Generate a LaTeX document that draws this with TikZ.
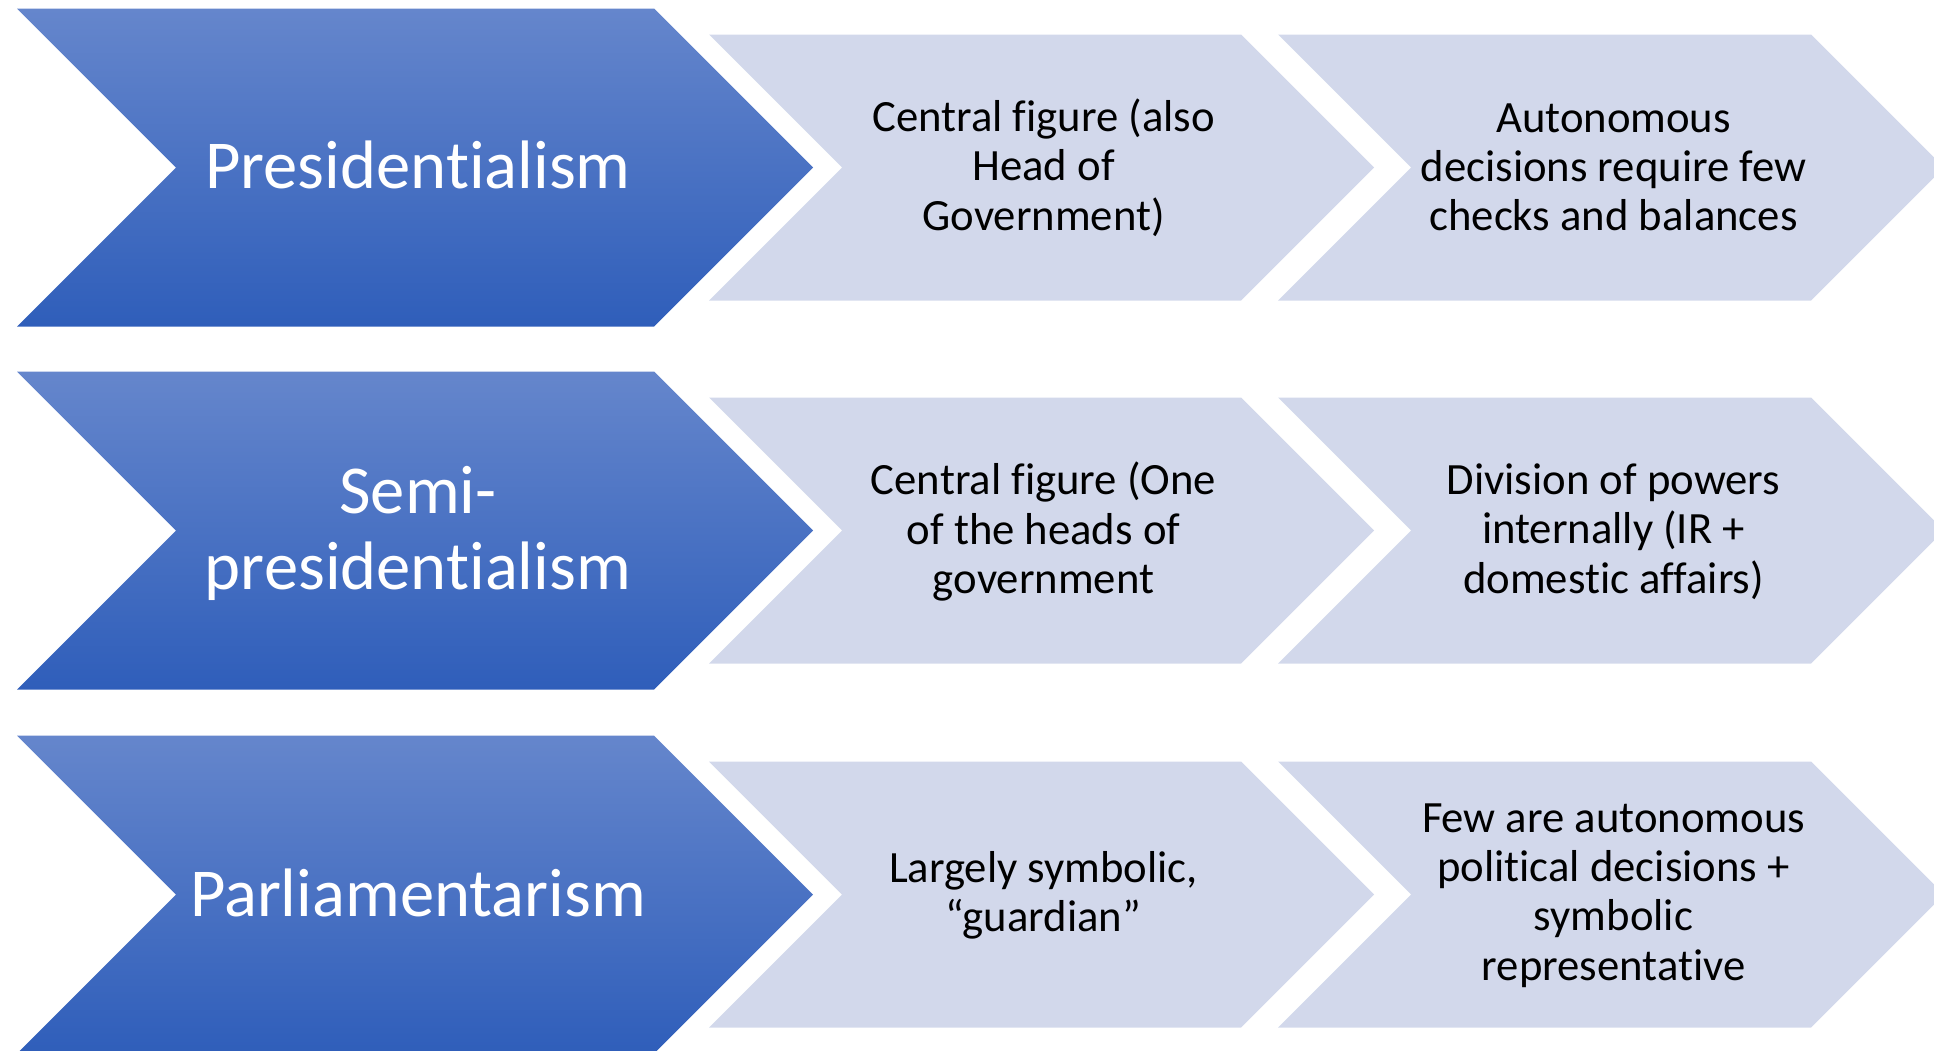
\documentclass[tikz,border=0pt]{standalone}
\usepackage{fontspec}
\setmainfont{Carlito}[Ligatures=NoCommon]
\definecolor{bluetop}{HTML}{6586CC}
\definecolor{bluebot}{HTML}{2F5EBA}
\definecolor{lightfill}{HTML}{D2D8EB}
\begin{document}
\begin{tikzpicture}[x=1pt,y=-1pt,
  bluechev/.style={top color=bluetop,bottom color=bluebot,draw=none},
  lightchev/.style={fill=lightfill,draw=none},
  bigtext/.style={text=white,font=\fontsize{68.6}{75.5}\selectfont,align=center,inner sep=0pt},
  smalltext/.style={text=black,font=\fontsize{44.7}{49.3}\selectfont,align=center,inner sep=0pt}]
\useasboundingbox (0,0) rectangle (1934,1050);
\clip (0,0) rectangle (1934,1050);
\foreach \yc in {167.5,530.5,894.5}{
  \shade[bluechev] (17,\yc-159) -- (654,\yc-159) -- (813,\yc) -- (654,\yc+159) -- (17,\yc+159) -- (176,\yc) -- cycle;
  \fill[lightchev] (709,\yc-133) -- (1241,\yc-133) -- (1374,\yc) -- (1241,\yc+133) -- (709,\yc+133) -- (842,\yc) -- cycle;
  \fill[lightchev] (1278,\yc-133) -- (1811,\yc-133) -- (1944,\yc) -- (1811,\yc+133) -- (1278,\yc+133) -- (1411,\yc) -- cycle;
}
\node[bigtext] (p1) at (418,165) {Presidentialism};
\node[smalltext] (p2) at (1043.5,167.5) {Central figure (also\\Head of\\Government)};
\node[smalltext] (p3) at (1613.5,167.5) {Autonomous\\decisions require few\\checks and balances};
\node[bigtext] (s1) at (418,533.5) {Semi-\\presidentialism};
\node[smalltext] (s2) at (1043.5,531.5) {Central figure (One\\of the heads of\\government};
\node[smalltext] (s3) at (1613.5,531.5) {Division of powers\\internally (IR +\\domestic affairs)};
\node[bigtext] (r1) at (418,893) {Parliamentarism};
\node[smalltext] (r2) at (1043.5,895.5) {Largely symbolic,\\“guardian”};
\node[smalltext] (r3) at (1613.5,895.5) {Few are autonomous\\political decisions +\\symbolic\\representative};
\end{tikzpicture}
\end{document}
